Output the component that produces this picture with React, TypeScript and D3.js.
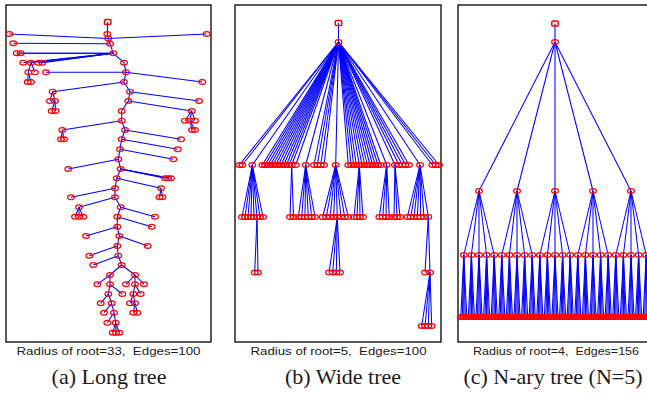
import { Component, createRef } from 'react';
import * as d3 from 'd3';

// ---- data (frame units: px from the frame's left / top) ----

// (a) long tree: node x, node y, parent index (-1 = root)
const longX = [101.7, 101.3, 3.3, 102.3, 200.7, 104, 7.3, 107.3, 10.7, 14.7,
  118, 17.3, 25, 32.3, 36.3, 22.3, 29, 21.7, 25, 120,
  40, 196.3, 118, 46.7, 44, 49, 45.7, 49.5, 124, 193,
  122.3, 185.7, 179, 184, 189, 186, 189, 115.7, 115.7, 56.3,
  55, 58, 119, 175, 115.7, 171.7, 114, 167.3, 112.3, 62.3,
  114.7, 159, 162.3, 165, 110.7, 155, 153.5, 156.5, 109, 65,
  109, 73, 69, 73, 77.3, 114.7, 149, 111.3, 145.7, 111.3,
  80, 113.3, 141.7, 111.3, 83.3, 112.3, 87.3, 115.7, 104, 129,
  91.3, 104, 102.3, 116.3, 94.7, 105.7, 98, 108, 101.3, 109.7,
  106.7, 110, 113.3, 120, 129, 138, 127.3, 134.7, 124, 129,
  127.3, 131.3];
const longY = [17, 29, 29, 33.5, 29, 38.7, 38.3, 48.3, 48.3, 48.3,
  57.7, 57.7, 57.7, 57.7, 57.7, 67.3, 67.3, 77, 77, 67.3,
  67.3, 77, 77, 86.7, 96, 96, 106, 106, 86.7, 96,
  96, 106, 115.7, 115.7, 115.7, 125, 125, 106, 115.7, 125,
  134.3, 134.3, 125, 134.3, 134.3, 144.3, 144.3, 154.3, 154.3, 164,
  164, 173.3, 173.3, 173.3, 173.3, 183.3, 192.3, 192.3, 183.3, 192.3,
  192.3, 202.3, 211.7, 211.7, 211.7, 202.3, 211.7, 211.7, 221.7, 221.7,
  231, 231, 241, 241, 250.7, 250.7, 260, 260, 270, 270,
  279.3, 279.3, 289, 289, 298.3, 298.3, 307.7, 307.7, 317.7, 317.7,
  327.7, 327.7, 327.7, 279.3, 279.3, 279.3, 289, 289, 298.3, 298.3,
  307.7, 307.7];
const longParent = [-1, 0, 3, 1, 3, 3, 5, 5, 7, 7,
  7, 7, 7, 7, 7, 12, 12, 15, 15, 10,
  19, 19, 19, 22, 23, 23, 25, 25, 22, 28,
  28, 30, 31, 31, 31, 33, 33, 30, 37, 38,
  39, 39, 38, 42, 42, 44, 44, 46, 46, 48,
  48, 50, 50, 50, 50, 54, 55, 55, 54, 58,
  58, 60, 61, 61, 61, 60, 65, 65, 67, 67,
  69, 69, 71, 71, 73, 73, 75, 75, 77, 77,
  78, 78, 81, 81, 82, 82, 85, 85, 87, 87,
  89, 89, 89, 79, 79, 79, 94, 94, 96, 96,
  99, 99];

// (b) wide tree, level by level
const wideLevelY = [18, 37, 160, 212, 267.5, 321];
const wideRootX = 103.5;
const wideLevel2X = [4.3, 7.3, 17.3, 27.3, 30, 32.7, 35.3, 38, 40.7, 43.3,
  46, 48.7, 51.3, 54, 56.7, 60.7, 70.7, 79, 82.3, 85.7,
  89, 100.7, 113.3, 116, 118.7, 121.3, 124.3, 127, 129.7, 132.3,
  135, 137.7, 140.3, 143, 145.7, 151.7, 160, 164, 167.3, 170.7,
  174, 185, 197.3, 200.7, 204];
const wideLevel3X = [7, 10, 13, 16, 19, 22, 25, 28,
  55, 58.5,
  63.3, 66.7, 70, 73.3, 76.7, 80,
  87.7, 91.3, 95, 98.7, 102.3, 106, 109.7, 113.3,
  119, 122, 125, 128,
  144.3, 147.7, 151, 154.3,
  159, 162, 165,
  172.3, 175.7, 179, 182.3, 185.7, 189, 193.3];
const wideLevel3Parent = [2, 2, 2, 2, 2, 2, 2, 2,
  14, 14,
  16, 16, 16, 16, 16, 16,
  21, 21, 21, 21, 21, 21, 21, 21,
  26, 26, 26, 26,
  35, 35, 35, 35,
  36, 36, 36,
  41, 41, 41, 41, 41, 41, 41];
const wideLevel4X = [19.7, 23, 94, 97.7, 101.3, 105, 190, 195];
const wideLevel4Parent = [5, 5, 20, 20, 20, 20, 41, 41];
const wideLevel5X = [186.7, 190, 193.3, 196.7];
const wideLevel5Parent = [7, 7, 7, 7];

// (c) N-ary tree: children per node at each depth, and level heights
const naryBranching = [1, 5, 5, 5];
const naryLevelY = [18.5, 37, 186, 250, 312];
const naryLeafSpan = [2, 192];

const captions = ['Radius of root=33,  Edges=100', 'Radius of root=5,  Edges=100', 'Radius of root=4,  Edges=156'];
const subcaptions = ['(a) Long tree', '(b) Wide tree', '(c) N-ary tree (N=5)'];

// ---- layout ----
const W = 647, H = 397;
const frameW = 205, frameH = 337;
const frames = [
  { left: 6, top: 5, w: 205, capX: 108.5, capW: 184, subX: 109 },
  { left: 235, top: 5, w: 206, capX: 338.5, capW: 176, subX: 343 },
  { left: 458, top: 5, w: 206, capX: 556, capW: 166, subX: 553 },
];
const blue = '#0000ff';
const red = '#ff0000';

type TreeNode = { x: number, y: number, parent: number };

class App extends Component {
  ref = createRef<HTMLDivElement>();

  componentDidMount() {
    this.draw();
  }

  buildWide(): TreeNode[] {
    let nodes: TreeNode[] = [];
    nodes.push({ x: wideRootX, y: wideLevelY[0], parent: -1 });
    nodes.push({ x: wideRootX, y: wideLevelY[1], parent: 0 });
    let base2 = nodes.length;
    wideLevel2X.forEach(x => nodes.push({ x, y: wideLevelY[2], parent: 1 }));
    let base3 = nodes.length;
    wideLevel3X.forEach((x, i) => nodes.push({ x, y: wideLevelY[3], parent: base2 + wideLevel3Parent[i] }));
    let base4 = nodes.length;
    wideLevel4X.forEach((x, i) => nodes.push({ x, y: wideLevelY[4], parent: base3 + wideLevel4Parent[i] }));
    wideLevel5X.forEach((x, i) => nodes.push({ x, y: wideLevelY[5], parent: base4 + wideLevel5Parent[i] }));
    return nodes;
  }

  buildNary(): TreeNode[] {
    const grow = (depth: number): any => {
      if (depth >= naryBranching.length) return {};
      return { children: d3.range(naryBranching[depth]).map(() => grow(depth + 1)) };
    };
    let root = d3.hierarchy(grow(0));
    d3.cluster().size([1, 1]).separation(() => 1)(root);
    let spread = d3.scaleLinear().domain([0, 1]).range(naryLeafSpan);
    let list = root.descendants();
    return list.map(n => ({
      x: spread((n as any).x),
      y: naryLevelY[n.depth],
      parent: n.parent ? list.indexOf(n.parent) : -1
    }));
  }

  drawTree(svg: any, frame: any, nodes: TreeNode[]) {
    let x = d3.scaleLinear().domain([0, frameW]).range([frame.left, frame.left + frameW]);
    let y = d3.scaleLinear().domain([0, frameH]).range([frame.top, frame.top + frameH]);
    let g = svg.append('g');

    g.append('rect')
      .attr('x', frame.left).attr('y', frame.top)
      .attr('width', frame.w).attr('height', frameH)
      .attr('fill', '#fff').attr('stroke', '#000').attr('stroke-width', 1.3);

    g.selectAll('.edge')
      .data(nodes.filter(d => d.parent >= 0))
      .enter()
      .append('line')
      .attr('x1', (d: TreeNode) => x(nodes[d.parent].x))
      .attr('y1', (d: TreeNode) => y(nodes[d.parent].y))
      .attr('x2', (d: TreeNode) => x(d.x))
      .attr('y2', (d: TreeNode) => y(d.y))
      .attr('stroke', blue)
      .attr('stroke-width', 1.05);

    g.selectAll('.node')
      .data(nodes.filter(d => d.parent >= 0))
      .enter()
      .append('ellipse')
      .attr('cx', (d: TreeNode) => x(d.x))
      .attr('cy', (d: TreeNode) => y(d.y))
      .attr('rx', 3.4).attr('ry', 2.4)
      .attr('fill', 'none')
      .attr('stroke', red)
      .attr('stroke-width', 1.15);

    let root = nodes.find(d => d.parent < 0)!;
    g.append('rect')
      .attr('x', x(root.x) - 3.2).attr('y', y(root.y) - 2.6)
      .attr('width', 6.4).attr('height', 5.2).attr('rx', 1.2)
      .attr('fill', 'none').attr('stroke', red).attr('stroke-width', 1.5);
  }

  draw() {
    let svg = d3.select(this.ref.current).select('svg');
    svg.selectAll('*').remove();
    svg.append('rect').attr('width', W).attr('height', H).attr('fill', '#fff');

    let trees: TreeNode[][] = [
      longX.map((x, i) => ({ x, y: longY[i], parent: longParent[i] })),
      this.buildWide(),
      this.buildNary()
    ];
    trees.forEach((nodes, i) => this.drawTree(svg, frames[i], nodes));

    frames.forEach((f, i) => {
      svg.append('text')
        .attr('x', f.capX).attr('y', 354.5)
        .attr('text-anchor', 'middle')
        .attr('textLength', f.capW).attr('lengthAdjust', 'spacingAndGlyphs')
        .style('font-family', '"Liberation Sans", Arial, sans-serif')
        .style('font-size', '10px')
        .style('white-space', 'pre')
        .attr('fill', '#1a1a1a')
        .text(captions[i]);
      svg.append('text')
        .attr('x', f.subX).attr('y', 384)
        .attr('text-anchor', 'middle')
        .style('font-family', '"Liberation Serif", "Times New Roman", serif')
        .style('font-size', '22px')
        .attr('fill', '#1a1a1a')
        .text(subcaptions[i]);
    });
  }

  render() {
    return (
      <div ref={this.ref} style={{ position: 'absolute', left: 0, top: 0 }}>
        <svg width={W} height={H} style={{ display: 'block' }} />
      </div>
    );
  }
}

export default App;
